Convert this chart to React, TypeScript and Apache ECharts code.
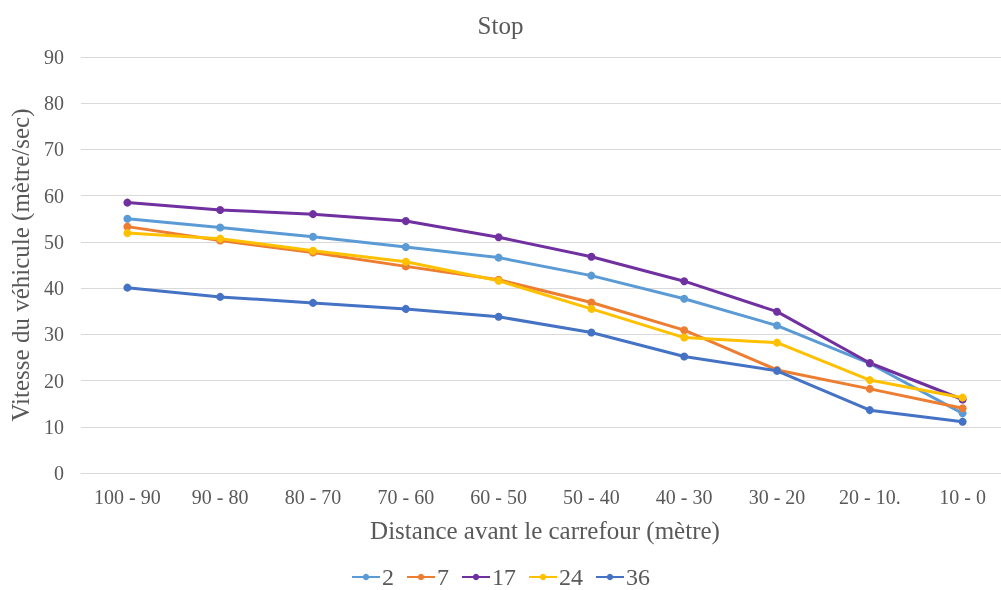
import React, { useEffect, useRef } from "react";
import * as echarts from "echarts";

const categories = ["100 - 90", "90 - 80", "80 - 70", "70 - 60", "60 - 50", "50 - 40", "40 - 30", "30 - 20", "20 - 10.", "10 - 0"];
const seriesNames = ["2", "7", "17", "24", "36"];
const s2 = [55.0, 53.1, 51.1, 48.9, 46.6, 42.7, 37.7, 31.9, 23.7, 12.9];
const s7 = [53.3, 50.3, 47.7, 44.7, 41.8, 36.9, 30.9, 22.3, 18.2, 14.0];
const s17 = [58.5, 56.9, 56.0, 54.5, 51.0, 46.8, 41.5, 34.9, 23.8, 15.9];
const s24 = [51.9, 50.7, 48.1, 45.7, 41.6, 35.5, 29.3, 28.2, 20.1, 16.3];
const s36 = [40.1, 38.1, 36.8, 35.5, 33.8, 30.4, 25.2, 22.1, 13.6, 11.1];
const colors = ["#5B9BD5", "#ED7D31", "#7030A0", "#FFC000", "#4472C4"];

const FONT = "'Liberation Serif', 'Times New Roman', serif";
const TXT = "#595959";

export default function App() {
  const ref = useRef<HTMLDivElement>(null);
  useEffect(() => {
    if (!ref.current) return;
    const chart = echarts.init(ref.current, undefined, { renderer: "svg" });
    const data = [s2, s7, s17, s24, s36];
    chart.setOption({
      animation: false,
      textStyle: { fontFamily: FONT },
      title: {
        text: "Stop",
        left: "center",
        top: 8,
        textStyle: { fontFamily: FONT, fontSize: 25, fontWeight: "normal", color: TXT },
      },
      legend: {
        top: 565,
        padding: 0,
        left: "center",
        itemWidth: 28,
        itemHeight: 8,
        itemGap: 12,
        data: seriesNames,
        textStyle: { fontFamily: FONT, fontSize: 24, lineHeight: 24, color: TXT, padding: [0, 0, 0, -3] },
      },
      grid: { left: 81, right: -8, top: 57, bottom: 117, containLabel: false, outerBoundsMode: "none" },
      xAxis: {
        type: "category",
        data: categories,
        boundaryGap: true,
        axisLine: { show: true, lineStyle: { color: "#D9D9D9", width: 1 } },
        axisTick: { show: false },
        axisLabel: { fontFamily: FONT, fontSize: 20, color: TXT, margin: 14, interval: 0 },
        name: "Distance avant le carrefour (mètre)",
        nameLocation: "middle",
        nameGap: 45,
        nameTextStyle: { fontFamily: FONT, fontSize: 25, color: TXT },
      },
      yAxis: {
        type: "value",
        min: 0,
        max: 90,
        interval: 10,
        axisLine: { show: false },
        axisTick: { show: false },
        splitLine: { lineStyle: { color: "#D9D9D9", width: 1 } },
        axisLabel: { fontFamily: FONT, fontSize: 20, color: TXT, margin: 17 },
        name: "Vitesse du véhicule (mètre/sec)",
        nameLocation: "middle",
        nameRotate: 90,
        nameGap: 42,
        nameTextStyle: { fontFamily: FONT, fontSize: 25, color: TXT },
      },
      series: seriesNames.map((n, i) => ({
        name: n,
        type: "line",
        data: data[i],
        color: colors[i],
        symbol: "circle",
        symbolSize: 8,
        lineStyle: { width: 3, color: colors[i] },
        itemStyle: { color: colors[i] },
      })),
    });
    return () => chart.dispose();
  }, []);
  return <div ref={ref} style={{ position: "fixed", left: 0, top: 0, width: 1001, height: 590 }} />;
}
